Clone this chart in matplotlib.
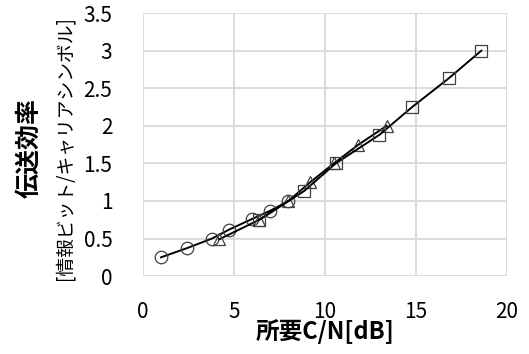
import matplotlib
matplotlib.use("Agg")
import matplotlib.pyplot as plt

plt.rcParams['font.family'] = ['Noto Sans CJK JP', 'DejaVu Sans']

circle_x = [1.0, 2.4, 3.8, 4.75, 6.0, 7.0, 8.0]
circle_y = [0.25, 0.37, 0.5, 0.62, 0.76, 0.87, 1.0]
tri_x = [4.2, 6.4, 8.0, 9.2, 10.5, 11.85, 13.4]
tri_y = [0.49, 0.75, 1.0, 1.25, 1.5, 1.75, 2.0]
sq_x = [6.4, 8.85, 10.6, 13.0, 14.8, 16.8, 18.6]
sq_y = [0.75, 1.13, 1.5, 1.88, 2.25, 2.63, 3.0]

xticks = [0, 5, 10, 15, 20]
yticks = [0, 0.5, 1, 1.5, 2, 2.5, 3, 3.5]
ytick_labels = ['0', '0.5', '1', '1.5', '2', '2.5', '3', '3.5']

fig = plt.figure(figsize=(5.29, 3.54), dpi=100)
ax = fig.add_axes([0.270, 0.220, 0.688, 0.743])

mk = dict(markerfacecolor='none', markeredgecolor='#404040', markeredgewidth=0.9,
          color='black', linewidth=1.4)
ax.plot(circle_x, circle_y, marker='o', markersize=9, **mk)
ax.plot(tri_x, tri_y, marker='^', markersize=9, **mk)
ax.plot(sq_x, sq_y, marker='s', markersize=9, **mk)

ax.set_xlim(0, 20)
ax.set_ylim(0, 3.5)
ax.set_xticks(xticks)
ax.set_xticklabels([str(t) for t in xticks])
ax.set_yticks(yticks)
ax.set_yticklabels(ytick_labels)
ax.grid(True, color='#d9d9d9', linewidth=1.3)
ax.set_axisbelow(True)
for s in ax.spines.values():
    s.set_visible(False)
ax.tick_params(length=0, labelsize=15, colors='black')
ax.tick_params(axis='x', pad=18)
ax.tick_params(axis='y', pad=22)

fig.text(0.614, 0.063, '所要C/N[dB]', fontsize=17, fontweight='bold',
         ha='center', va='center')

fig.text(0.055, 0.582, '伝送効率', rotation=90, fontsize=18, fontweight='bold',
         ha='center', va='center')
fig.text(0.123, 0.582, '[情報ビット/キャリアシンボル]', rotation=90, fontsize=13.5,
         ha='center', va='center')

fig.savefig('out.png', dpi=100)
